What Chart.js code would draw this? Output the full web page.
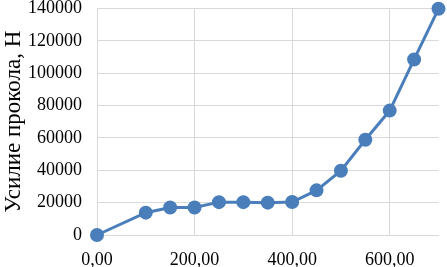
<!DOCTYPE html>
<html>
<head>
<meta charset="utf-8">
<script src="https://cdn.jsdelivr.net/npm/chart.js@4"></script>
<style>
  html, body { margin: 0; padding: 0; background: #fff; }
  #wrap { width: 447px; height: 267px; }
</style>
</head>
<body>
<div id="wrap"><canvas id="chart" width="447" height="267"></canvas></div>
<script>
// displacement (x) and puncture force, N (y)
const xs = [0, 100, 150, 200, 250, 300, 350, 400, 450, 500, 550, 600, 650, 700];
const force = [0, 13800, 17000, 17000, 20300, 20300, 20000, 20400, 27600, 39700, 58900, 76900, 108500, 139800];
const yTitle = "Усилие прокола, Н";

const blue = "#4a7ebb";
const font = { family: "'Liberation Serif', 'Times New Roman', serif", size: 18 };

new Chart(document.getElementById("chart"), {
  type: "line",
  data: {
    datasets: [{
      data: xs.map((x, i) => ({ x: x, y: force[i] })),
      borderColor: blue,
      backgroundColor: blue,
      borderWidth: 3,
      pointRadius: 5.5,
      pointHoverRadius: 5.5,
      tension: 0,
      fill: false,
      clip: false
    }]
  },
  options: {
    responsive: false,
    animation: false,
    layout: { padding: { top: 7, right: 7, left: 0, bottom: 0 } },
    plugins: { legend: { display: false }, tooltip: { enabled: false } },
    scales: {
      x: {
        type: "linear",
        min: 0, max: 700,
        ticks: {
          stepSize: 200,
          padding: 14,
          color: "#000",
          font: font,
          callback: v => (v % 200 == 0 ? v.toFixed(2).replace(".", ",") : "")
        },
        grid: {
          drawTicks: false,
          color: ctx => (ctx.tick && ctx.tick.value % 200 != 0 ? "rgba(0,0,0,0)" : "#d9d9d9")
        },
        border: { color: "#d9d9d9" },
        afterFit: s => { s.height = 32; s.paddingRight = 0; }
      },
      y: {
        min: 0, max: 140000,
        ticks: { stepSize: 20000, padding: 15, color: "#000", font: font, callback: v => String(v) },
        grid: { drawTicks: false, color: "#d9d9d9" },
        border: { color: "#d9d9d9" },
        title: {
          display: true,
          text: yTitle,
          color: "#000",
          font: { family: font.family, size: 23 },
          padding: { top: 0, bottom: 0 }
        },
        afterFit: s => { s.width = 97; s.paddingTop = 0; s.paddingBottom = 0; }
      }
    }
  }
});
</script>
</body>
</html>
